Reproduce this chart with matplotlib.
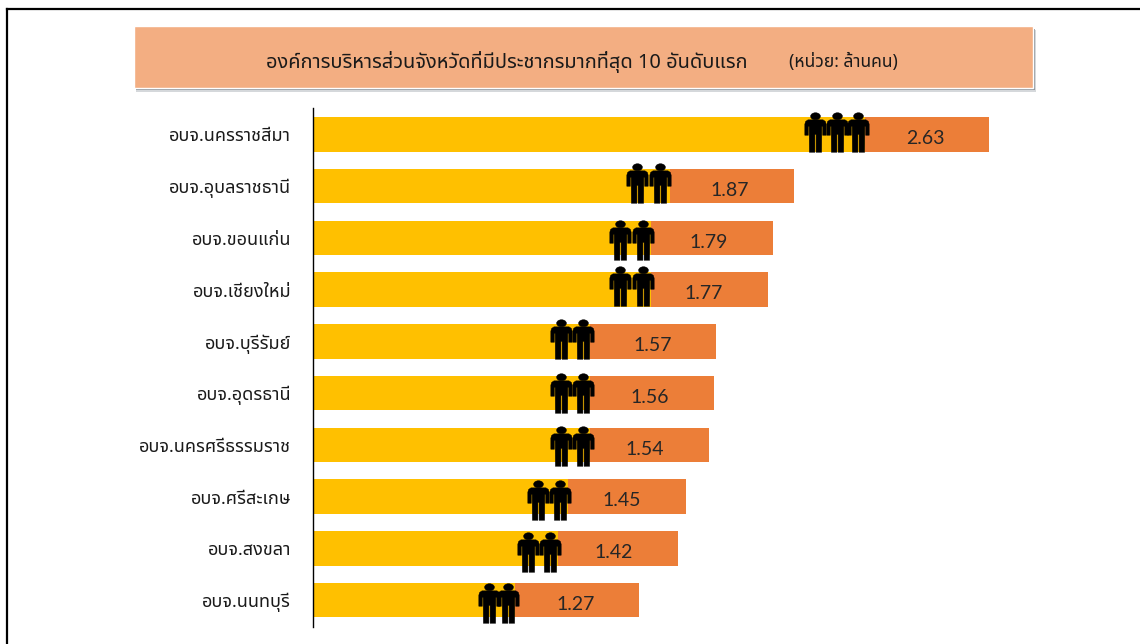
import matplotlib
matplotlib.use('Agg')
import matplotlib.pyplot as plt
from matplotlib.patches import Rectangle
from matplotlib.path import Path
from matplotlib.transforms import Affine2D
import numpy as np

W, H = 1140, 644
THAI = ['Noto Sans Thai', 'DejaVu Sans']

labels = ['อบจ.นครราชสีมา', 'อบจ.อุบลราชธานี', 'อบจ.ขอนแก่น', 'อบจ.เชียงใหม่', 'อบจ.บุรีรัมย์',
          'อบจ.อุดรธานี', 'อบจ.นครศรีธรรมราช', 'อบจ.ศรีสะเกษ', 'อบจ.สงขลา', 'อบจ.นนทบุรี']
values = [2.63, 1.87, 1.79, 1.77, 1.57, 1.56, 1.54, 1.45, 1.42, 1.27]
# where the yellow part stops
yellow_ends = [2.148, 1.389, 1.317, 1.317, 1.078, 1.078, 1.078, 0.992, 0.953, 0.786]
# centre of the first person, how many, spacing in px, and how far off the bar centre (px)
people_start = [1.953, 1.26, 1.195, 1.195, 0.964, 0.964, 0.964, 0.875, 0.835, 0.685]
people_count = [3, 2, 2, 2, 2, 2, 2, 2, 2, 2]
people_step = [21.7, 23, 23, 23, 22.5, 22.5, 22.5, 22.5, 22.5, 19]
people_shift = [-2.7, -3.5, 2, -3.5, -2, -0.5, 1.2, 3, 4, 3.3]

title_main = 'องค์การบริหารส่วนจังหวัดที่มีประชากรมากที่สุด 10 อันดับแรก'
title_unit = '(หน่วย: ล้านคน)'


def person_marker():
    # little standing man, y up, about 1 x 2 units
    head = Path.unit_circle().transformed(Affine2D().scale(0.25, 0.18).translate(0, 0.82))
    half = [(0.0, 0.64), (0.38, 0.64), (0.50, 0.56), (0.54, 0.42), (0.54, -0.14), (0.36, -0.14),
            (0.36, 0.30), (0.32, 0.30), (0.31, -1.0), (0.03, -1.0), (0.03, -0.10), (0.0, -0.10)]
    outline = half + [(-x, y) for x, y in half[-2:0:-1]] + [half[0]]
    return Path.make_compound_path(head, Path(outline, closed=True))


fig = plt.figure(figsize=(W / 100, H / 100), dpi=100, facecolor='white')

# black frame round the slide, only left and top show
fig.add_artist(plt.Line2D([7 / W, 7 / W], [0, 1 - 9 / H], color='black', lw=1.6))
fig.add_artist(plt.Line2D([7 / W, 1], [1 - 9 / H, 1 - 9 / H], color='black', lw=1.6))

# title box with its shadow
fig.add_artist(Rectangle((136 / W, 1 - 92 / H), 900 / W, 62 / H, transform=fig.transFigure,
                         facecolor='#d5d8db', edgecolor='none'))
fig.add_artist(Rectangle((136 / W, 1 - 90 / H), 899 / W, 61 / H, transform=fig.transFigure,
                         facecolor='#8f969c', edgecolor='none'))
fig.add_artist(Rectangle((134 / W, 1 - 87.5 / H), 899 / W, 61 / H, transform=fig.transFigure,
                         facecolor='#f3ae82', edgecolor='white', lw=1))
fig.text(506.5 / W, 1 - 62 / H, title_main, family=THAI, fontsize=14.4, fontweight='semibold',
         color='#1a1a1a', ha='center', va='center')
fig.text(843.5 / W, 1 - 62 / H, title_unit, family=THAI, fontsize=12.6, fontweight='semibold',
         color='#1a1a1a', ha='center', va='center')

# axes: left edge is the zero line at px 313, 257 px per million
ax = fig.add_axes([313 / W, 1 - 627 / H, (1100 - 313) / W, (627 - 108) / H])
ax.set_xlim(0, (1100 - 313) / 257)
ypos = np.arange(len(labels))
ax.set_ylim(9 + (627 - 600) / 51.8, -(134.5 - 108) / 51.8)
ax.patch.set_alpha(0)
for s in ['top', 'right', 'bottom']:
    ax.spines[s].set_visible(False)
ax.spines['left'].set_linewidth(1)
ax.xaxis.set_visible(False)

ax.barh(ypos, values, height=0.665, color='#ec7e38', linewidth=0)
ax.barh(ypos, yellow_ends, height=0.665, color='#ffc000', linewidth=0)

ax.set_yticks(ypos, labels)
ax.tick_params(axis='y', length=0, pad=15.8)
for t in ax.get_yticklabels():
    t.set_family(THAI)
    t.set_fontsize(13)
    t.set_fontweight('medium')
    t.set_color('#1a1a1a')

marker = person_marker()
for i in range(len(labels)):
    xs = [people_start[i] + people_step[i] / 257 * k for k in range(people_count[i])]
    ax.plot(xs, [i + people_shift[i] / 51.8] * len(xs), linestyle='none', marker=marker, markersize=28.5,
            markerfacecolor='black', markeredgecolor='black', markeredgewidth=0.3, clip_on=False)
    ax.annotate(f'{values[i]:.2f}', (values[i], i), xytext=(-46, -3), textcoords='offset points',
                ha='center', va='center', fontsize=14, color='#262626', family='Lato')

fig.savefig('out.png', dpi=100)
